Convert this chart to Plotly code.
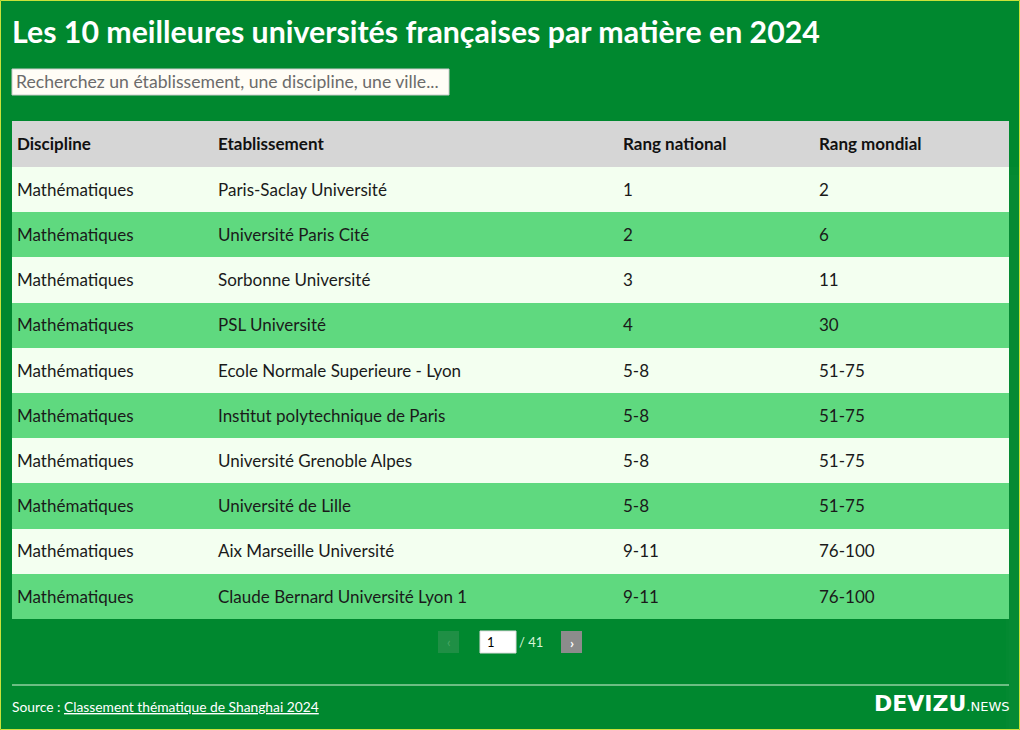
import plotly.graph_objects as go

W, H = 1020, 730

title = "Les 10 meilleures universités françaises par matière en 2024"
search_placeholder = "Recherchez un établissement, une discipline, une ville..."
headers = ["Discipline", "Etablissement", "Rang national", "Rang mondial"]
disciplines = ["Mathématiques"] * 10
etablissements = [
    "Paris-Saclay Université",
    "Université Paris Cité",
    "Sorbonne Université",
    "PSL Université",
    "Ecole Normale Superieure - Lyon",
    "Institut polytechnique de Paris",
    "Université Grenoble Alpes",
    "Université de Lille",
    "Aix Marseille Université",
    "Claude Bernard Université Lyon 1",
]
rang_national = ["1", "2", "3", "4", "5-8", "5-8", "5-8", "5-8", "9-11", "9-11"]
rang_mondial = ["2", "6", "11", "30", "51-75", "51-75", "51-75", "51-75", "76-100", "76-100"]
page_current = "1"
page_total = "/ 41"
source_label = "Source : "
source_link = "Classement thématique de Shanghai 2024"

BG = "#00882f"
FONT = "Lato"
HEAD_BG = "#d6d6d6"
ROW_LIGHT = "#f3fff0"
ROW_GREEN = "#5fd97f"
CLEAR = "rgba(0,0,0,0)"

n = len(etablissements)
row_colors = [ROW_LIGHT if i % 2 == 0 else ROW_GREEN for i in range(n)]
colwidths = [201, 405, 196, 195]
ROW_H = 45.2

def py(y):
    return 1 - y / H

def px(x):
    return x / W

fig = go.Figure()
# background table (fills)
fig.add_trace(go.Table(
    domain=dict(x=[px(12), px(1009)], y=[0, py(121)]),
    columnwidth=colwidths,
    header=dict(
        values=["" for h in headers],
        fill_color=HEAD_BG,
        line=dict(color=HEAD_BG, width=0),
        height=46,
    ),
    cells=dict(
        values=[[""] * n] * 4,
        fill_color=[row_colors] * 4,
        line=dict(color=[row_colors] * 4, width=0),
        height=ROW_H,
    ),
))
# text table (transparent, shifted to centre text vertically)
fig.add_trace(go.Table(
    domain=dict(x=[px(9), px(1006)], y=[0, py(125)]),
    columnwidth=colwidths,
    header=dict(
        values=[f"<b>{h}</b>" for h in headers],
        fill_color=CLEAR,
        line=dict(color=CLEAR, width=0),
        align="left",
        height=50,
        font=dict(family=FONT, size=17, color="#111111"),
    ),
    cells=dict(
        values=[disciplines, etablissements, rang_national, rang_mondial],
        fill_color=CLEAR,
        line=dict(color=CLEAR, width=0),
        align="left",
        height=ROW_H,
        font=dict(family=FONT, size=17, color="#1a1a1a"),
    ),
))

shapes = []
annotations = []

# title
annotations.append(dict(x=px(10), y=py(31), xref="paper", yref="paper",
                        text=f"<b>{title}</b>", showarrow=False, xanchor="left", yanchor="middle",
                        font=dict(family=FONT, size=30.3, color="white")))
# search box
shapes.append(dict(type="rect", xref="paper", yref="paper", x0=px(12), x1=px(449), y0=py(95), y1=py(69),
                   fillcolor="#fffdf6", line=dict(color="#cccccc", width=1)))
annotations.append(dict(x=px(14), y=py(82), xref="paper", yref="paper", text=search_placeholder,
                        showarrow=False, xanchor="left", yanchor="middle",
                        font=dict(family=FONT, size=17.6, color="#6b6b6b")))
# pagination
shapes.append(dict(type="rect", xref="paper", yref="paper", x0=px(438), x1=px(459), y0=py(653), y1=py(631),
                   fillcolor="#1f8f45", line=dict(width=0)))
annotations.append(dict(x=px(448.5), y=py(642), xref="paper", yref="paper", text="‹",
                        showarrow=False, xanchor="center", yanchor="middle",
                        font=dict(family=FONT, size=13, color="#4aa766")))
shapes.append(dict(type="rect", xref="paper", yref="paper", x0=px(480), x1=px(516), y0=py(653), y1=py(631),
                   fillcolor="white", line=dict(color="#dddddd", width=1)))
annotations.append(dict(x=px(485), y=py(642), xref="paper", yref="paper", text=page_current,
                        showarrow=False, xanchor="left", yanchor="middle",
                        font=dict(family=FONT, size=13, color="black")))
annotations.append(dict(x=px(517), y=py(642), xref="paper", yref="paper", text=page_total,
                        showarrow=False, xanchor="left", yanchor="middle",
                        font=dict(family=FONT, size=13, color="#d8f5d8")))
shapes.append(dict(type="rect", xref="paper", yref="paper", x0=px(561), x1=px(582), y0=py(653), y1=py(631),
                   fillcolor="#8c8c8c", line=dict(width=0)))
annotations.append(dict(x=px(571.5), y=py(642), xref="paper", yref="paper", text="<b>›</b>",
                        showarrow=False, xanchor="center", yanchor="middle",
                        font=dict(family=FONT, size=14, color="white")))
# footer line
shapes.append(dict(type="line", xref="paper", yref="paper", x0=px(12), x1=px(1009), y0=py(685), y1=py(685),
                   line=dict(color="#d9f2d9", width=1)))
annotations.append(dict(x=px(10), y=py(706), xref="paper", yref="paper",
                        text=f"{source_label}<a href='#' style='color:white'><u>{source_link}</u></a>",
                        showarrow=False, xanchor="left", yanchor="middle",
                        font=dict(family=FONT, size=13.8, color="white")))
annotations.append(dict(x=px(1012), y=py(703), xref="paper", yref="paper",
                        text="<b>DEVIZU</b><span style='font-size:13px'>.NEWS</span>",
                        showarrow=False, xanchor="right", yanchor="middle",
                        font=dict(family="DejaVu Sans", size=22, color="white")))
# outer border
shapes.append(dict(type="rect", xref="paper", yref="paper", x0=0.5 / W, x1=(W - 0.5) / W,
                   y0=0.5 / H, y1=(H - 0.5) / H, line=dict(color="#c9e23a", width=1)))

fig.update_layout(
    width=W, height=H,
    margin=dict(l=0, r=0, t=0, b=0),
    paper_bgcolor=BG, plot_bgcolor=BG,
    shapes=shapes, annotations=annotations,
)

fig.write_html("out.html", config=dict(displayModeBar=False),
               post_script="document.body.style.margin='0';document.body.style.overflow='hidden';")
